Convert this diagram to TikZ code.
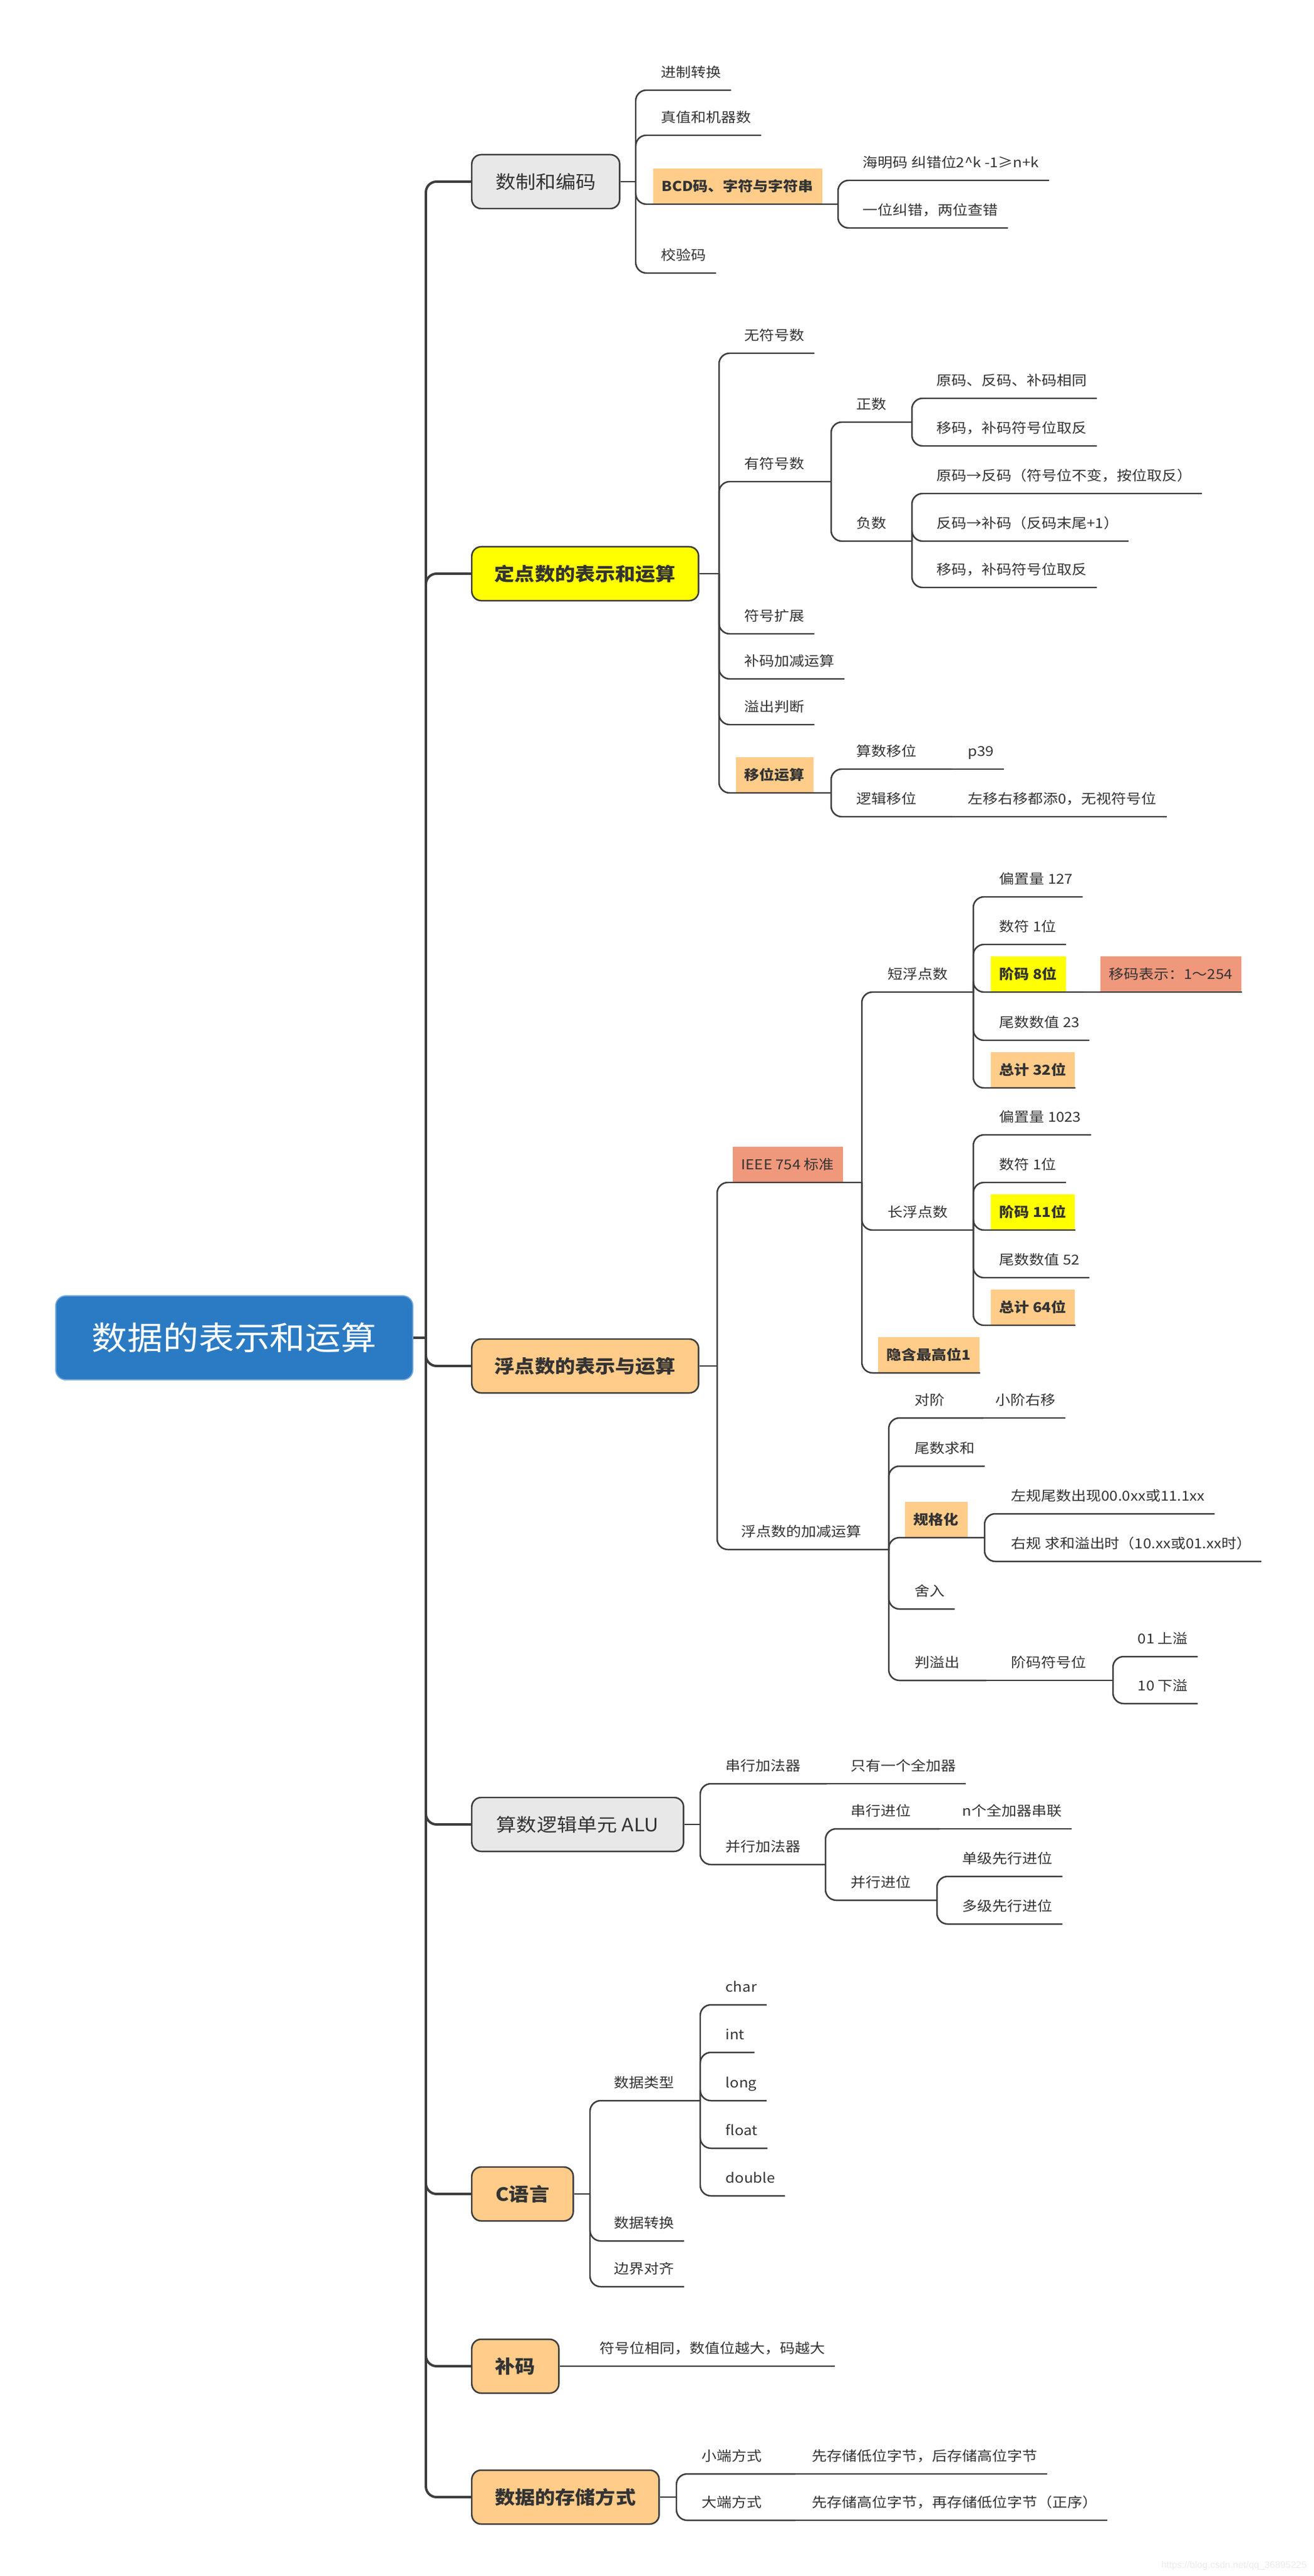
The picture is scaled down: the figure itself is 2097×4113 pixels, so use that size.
\documentclass[tikz,border=0pt]{standalone}
\usepackage{fontspec}
\setmainfont{Noto Sans CJK SC}[FakeStretch=1.1]
\newfontfamily\wmfont{Liberation Sans}
\usepackage{tikz}
\usetikzlibrary{calc,positioning}
\definecolor{rootblue}{HTML}{2B7BC4}
\definecolor{boxgray}{HTML}{E8E8E8}
\definecolor{hlyellow}{HTML}{FFFF00}
\definecolor{hlorange}{HTML}{FFCC8A}
\definecolor{hlsalmon}{HTML}{F0987C}
\definecolor{linegray}{HTML}{3D3D3D}
\definecolor{txtgray}{HTML}{333333}

\begin{document}
\begin{tikzpicture}
[x=0.01cm, y=-0.01cm,
% STYLES
% The root style is used for the central topic
root/.style={rectangle, rounded corners=0.16cm, fill=rootblue, draw=rootblue!65!white, line width=0.5pt, text=white, minimum height=1.34cm, minimum width=5.7cm, anchor=west, font=\fontsize{14.7pt}{16pt}\selectfont},
% The topic style is used for the main branches
topic/.style={rectangle, rounded corners=0.15cm, draw=linegray, line width=0.7pt, minimum height=0.86cm, anchor=west, text=txtgray, font=\fontsize{8.3pt}{10pt}\selectfont},
topicbold/.style={topic, font=\fontsize{8.3pt}{10pt}\selectfont\bfseries},
% The leaf style is a text sitting on its own underline
leaf/.style={rectangle, inner xsep=0.15cm, inner ysep=0pt, text depth=0.2cm, anchor=south west, text=txtgray, font=\fontsize{6.2pt}{7pt}\selectfont},
% The hilite style is a filled leaf
hilite/.style={rectangle, inner xsep=0.14cm, inner ysep=0pt, minimum height=0.56cm, anchor=south west, text=txtgray, font=\fontsize{6.2pt}{7pt}\selectfont\bfseries},
hiliteplain/.style={hilite, font=\fontsize{6.2pt}{7pt}\selectfont},
% Connectors
link/.style={draw=linegray, line width=0.7pt},
trunk/.style={link, line width=1.1pt},
elbow/.style={rounded corners=0.17cm, to path={|- (\tikztotarget)}}]

\fill[white] (0,0) rectangle (2097,4113);
\useasboundingbox (0,0) rectangle (2097,4113);

% Draw root and topics
\node [root] (root) at (88,2136) {数据的表示和运算};
\coordinate (trunk) at (680,2136);

\node [topic, fill=boxgray, minimum width=2.36cm] (code) at (752,290) {数制和编码};
\node [topicbold, fill=hlyellow, minimum width=3.62cm] (fixed) at (752,916) {定点数的表示和运算};
\node [topicbold, fill=hlorange, minimum width=3.62cm] (float) at (752,2181) {浮点数的表示与运算};
\node [topic, fill=boxgray, minimum width=3.38cm] (alu) at (752,2913) {算数逻辑单元 ALU};
\node [topicbold, fill=hlorange, minimum width=1.62cm] (clang) at (752,3503) {C语言};
\node [topicbold, fill=hlorange, minimum width=1.39cm] (twos) at (752,3778) {补码};
\node [topicbold, fill=hlorange, minimum width=2.99cm] (store) at (752,3987) {数据的存储方式};

\path[trunk] (root.east) edge (trunk)
(trunk) edge[elbow] (code.west)
(trunk) edge[elbow] (fixed.west)
(trunk) edge[elbow] (float.west)
(trunk) edge[elbow] (alu.west)
(trunk) edge[elbow] (clang.west)
(trunk) edge[elbow] (twos.west)
(trunk) edge[elbow] (store.west);

%%%%%%%%%%%%%%%
% code
\coordinate (code-s) at (1015,290);
\node [leaf] (radix) at (1040,144) {进制转换};
\node [leaf] (truth) at (1040,216) {真值和机器数};
\node [hilite, fill=hlorange] (bcd) at (1042,326) {BCD码、字符与字符串};
\coordinate (bcd-s) at (1338,326);
\node [leaf] (hamming) at (1362,288) {海明码 纠错位2\textasciicircum k -1≥n+k};
\node [leaf] (hamming2) at (1362,364) {一位纠错，两位查错};
\node [leaf] (check) at (1040,436) {校验码};

\path[link] (code.east) edge (code-s)
(code-s) edge[elbow] (radix.south east)
(code-s) edge[elbow] (truth.south east)
(code-s) edge[elbow] (bcd-s)
(code-s) edge[elbow] (check.south east)
(bcd-s) edge[elbow] (hamming.south east)
(bcd-s) edge[elbow] (hamming2.south east);

% fixed
\coordinate (fixed-s) at (1148,916);
\node [leaf] (unsigned) at (1173,564) {无符号数};
\node [leaf] (signed) at (1173,769) {有符号数};
\coordinate (signed-s) at (1327,769);
\node [leaf] (pos) at (1352,674) {正数};
\coordinate (pos-s) at (1456,674);
\node [leaf] (pos1) at (1480,636) {原码、反码、补码相同};
\node [leaf] (pos2) at (1480,712) {移码，补码符号位取反};
\node [leaf] (neg) at (1352,864) {负数};
\coordinate (neg-s) at (1456,864);
\node [leaf] (neg1) at (1480,788) {原码→反码（符号位不变，按位取反）};
\node [leaf] (neg2) at (1480,864) {反码→补码（反码末尾+1）};
\node [leaf] (neg3) at (1480,938) {移码，补码符号位取反};
\node [leaf] (signext) at (1173,1012) {符号扩展};
\node [leaf] (addsub) at (1173,1084) {补码加减运算};
\node [leaf] (ovf) at (1173,1157) {溢出判断};
\node [hilite, fill=hlorange] (shift) at (1174,1266) {移位运算};
\coordinate (shift-s) at (1327,1266);
\node [leaf] (arith) at (1352,1228) {算数移位};
\coordinate (arith-s) at (1520,1228);
\node [leaf] (arith1) at (1530,1228) {p39};
\node [leaf] (logic) at (1352,1304) {逻辑移位};
\coordinate (logic-s) at (1520,1304);
\node [leaf] (logic1) at (1530,1304) {左移右移都添0，无视符号位};

\path[link] (fixed.east) edge (fixed-s)
(fixed-s) edge[elbow] (unsigned.south east)
(fixed-s) edge[elbow] (signed-s)
(fixed-s) edge[elbow] (signext.south east)
(fixed-s) edge[elbow] (addsub.south east)
(fixed-s) edge[elbow] (ovf.south east)
(fixed-s) edge[elbow] (shift-s)
(signed-s) edge[elbow] (pos-s)
(signed-s) edge[elbow] (neg-s)
(pos-s) edge[elbow] (pos1.south east)
(pos-s) edge[elbow] (pos2.south east)
(neg-s) edge[elbow] (neg1.south east)
(neg-s) edge[elbow] (neg2.south east)
(neg-s) edge[elbow] (neg3.south east)
(shift-s) edge[elbow] (arith-s)
(shift-s) edge[elbow] (logic-s)
(arith-s) edge (arith1.south east)
(logic-s) edge (logic1.south east);

% float
\coordinate (float-s) at (1145,2181);
\node [hiliteplain, fill=hlsalmon] (ieee) at (1169,1888) {IEEE 754 标准};
\coordinate (ieee-s) at (1376,1888);
\node [leaf] (short) at (1402,1584) {短浮点数};
\coordinate (short-s) at (1554,1584);
\node [leaf] (sbias) at (1580,1432) {偏置量 127};
\node [leaf] (ssign) at (1580,1508) {数符 1位};
\node [hilite, fill=hlyellow] (sexp) at (1581,1584) {阶码 8位};
\coordinate (sexp-s) at (1730,1584);
\node [hiliteplain, fill=hlsalmon] (sexp1) at (1756,1584) {移码表示：1～254};
\node [leaf] (sman) at (1580,1661) {尾数数值 23};
\node [hilite, fill=hlorange] (stotal) at (1581,1737) {总计 32位};
\node [leaf] (long) at (1402,1964) {长浮点数};
\coordinate (long-s) at (1554,1964);
\node [leaf] (lbias) at (1580,1812) {偏置量 1023};
\node [leaf] (lsign) at (1580,1888) {数符 1位};
\node [hilite, fill=hlyellow] (lexp) at (1581,1964) {阶码 11位};
\node [leaf] (lman) at (1580,2040) {尾数数值 52};
\node [hilite, fill=hlorange] (ltotal) at (1581,2116) {总计 64位};
\node [hilite, fill=hlorange] (hidden) at (1401,2192) {隐含最高位1};
\node [leaf] (fadd) at (1168,2474) {浮点数的加减运算};
\coordinate (fadd-s) at (1419,2474);
\node [leaf] (align) at (1445,2264) {对阶};
\coordinate (align-s) at (1570,2264);
\node [leaf] (align1) at (1574,2264) {小阶右移};
\node [leaf] (msum) at (1445,2341) {尾数求和};
\node [hilite, fill=hlorange] (norm) at (1444,2455) {规格化};
\coordinate (norm-s) at (1572,2455);
\node [leaf] (norml) at (1599,2417) {左规尾数出现00.0xx或11.1xx};
\node [leaf] (normr) at (1599,2493) {右规 求和溢出时（10.xx或01.xx时）};
\node [leaf] (round) at (1445,2569) {舍入};
\node [leaf] (ovjudge) at (1445,2683) {判溢出};
\coordinate (ovjudge-s) at (1575,2683);
\node [leaf] (expsign) at (1599,2683) {阶码符号位};
\coordinate (expsign-s) at (1777,2683);
\node [leaf] (upov) at (1801,2645) {01 上溢};
\node [leaf] (downov) at (1801,2720) {10 下溢};

\path[link] (float.east) edge (float-s)
(float-s) edge[elbow] (ieee-s)
(float-s) edge[elbow] (fadd-s)
(ieee-s) edge[elbow] (short-s)
(ieee-s) edge[elbow] (long-s)
(ieee-s) edge[elbow] (hidden.south east)
(short-s) edge[elbow] (sbias.south east)
(short-s) edge[elbow] (ssign.south east)
(short-s) edge[elbow] (sexp-s)
(short-s) edge[elbow] (sman.south east)
(short-s) edge[elbow] (stotal.south east)
(sexp-s) edge (sexp1.south east)
(long-s) edge[elbow] (lbias.south east)
(long-s) edge[elbow] (lsign.south east)
(long-s) edge[elbow] (lexp.south east)
(long-s) edge[elbow] (lman.south east)
(long-s) edge[elbow] (ltotal.south east)
(fadd-s) edge[elbow] (align-s)
(fadd-s) edge[elbow] (msum.south east)
(fadd-s) edge[elbow] (norm-s)
(fadd-s) edge[elbow] (round.south east)
(fadd-s) edge[elbow] (ovjudge-s)
(align-s) edge (align1.south east)
(norm-s) edge[elbow] (norml.south east)
(norm-s) edge[elbow] (normr.south east)
(ovjudge-s) edge (expsign-s)
(expsign-s) edge[elbow] (upov.south east)
(expsign-s) edge[elbow] (downov.south east);

% alu
\coordinate (alu-s) at (1118,2913);
\node [leaf] (seradd) at (1143,2848) {串行加法器};
\coordinate (seradd-s) at (1320,2848);
\node [leaf] (seradd1) at (1343,2848) {只有一个全加器};
\node [leaf] (paradd) at (1143,2977) {并行加法器};
\coordinate (paradd-s) at (1318,2977);
\node [leaf] (sercarry) at (1343,2920) {串行进位};
\coordinate (sercarry-s) at (1500,2920);
\node [leaf] (sercarry1) at (1521,2920) {n个全加器串联};
\node [leaf] (parcarry) at (1343,3034) {并行进位};
\coordinate (parcarry-s) at (1496,3034);
\node [leaf] (onelevel) at (1521,2996) {单级先行进位};
\node [leaf] (multilevel) at (1521,3072) {多级先行进位};

\path[link] (alu.east) edge (alu-s)
(alu-s) edge[elbow] (seradd-s)
(alu-s) edge[elbow] (paradd-s)
(seradd-s) edge (seradd1.south east)
(paradd-s) edge[elbow] (sercarry-s)
(paradd-s) edge[elbow] (parcarry-s)
(sercarry-s) edge (sercarry1.south east)
(parcarry-s) edge[elbow] (onelevel.south east)
(parcarry-s) edge[elbow] (multilevel.south east);

% clang
\coordinate (clang-s) at (942,3503);
\node [leaf] (ctype) at (965,3354) {数据类型};
\coordinate (ctype-s) at (1118,3354);
\node [leaf] (tchar) at (1143,3201) {char};
\node [leaf] (tint) at (1143,3277) {int};
\node [leaf] (tlong) at (1143,3354) {long};
\node [leaf] (tfloat) at (1143,3430) {float};
\node [leaf] (tdouble) at (1143,3506) {double};
\node [leaf] (cconv) at (965,3578) {数据转换};
\node [leaf] (calign) at (965,3651) {边界对齐};

\path[link] (clang.east) edge (clang-s)
(clang-s) edge[elbow] (ctype-s)
(clang-s) edge[elbow] (cconv.south east)
(clang-s) edge[elbow] (calign.south east)
(ctype-s) edge[elbow] (tchar.south east)
(ctype-s) edge[elbow] (tint.south east)
(ctype-s) edge[elbow] (tlong.south east)
(ctype-s) edge[elbow] (tfloat.south east)
(ctype-s) edge[elbow] (tdouble.south east);

% twos
\node [leaf] (twos1) at (942,3778) {符号位相同，数值位越大，码越大};
\path[link] (twos.east) edge (twos1.south east);

% store
\coordinate (store-s) at (1080,3987);
\node [leaf] (little) at (1105,3950) {小端方式};
\coordinate (little-s) at (1270,3950);
\node [leaf] (little1) at (1281,3950) {先存储低位字节，后存储高位字节};
\node [leaf] (big) at (1105,4024) {大端方式};
\coordinate (big-s) at (1270,4024);
\node [leaf] (big1) at (1281,4024) {先存储高位字节，再存储低位字节（正序）};

\path[link] (store.east) edge (store-s)
(store-s) edge[elbow] (little-s)
(store-s) edge[elbow] (big-s)
(little-s) edge (little1.south east)
(big-s) edge (big1.south east);
%%%%%%%%%%%%%%%%

% watermark
\node [anchor=south east, inner sep=0pt, text=black!8, font=\wmfont\fontsize{4.3pt}{5pt}\selectfont] (wm) at (2087,4104) {https://blog.csdn.net/qq\_36895225};

\end{tikzpicture}
\end{document}
